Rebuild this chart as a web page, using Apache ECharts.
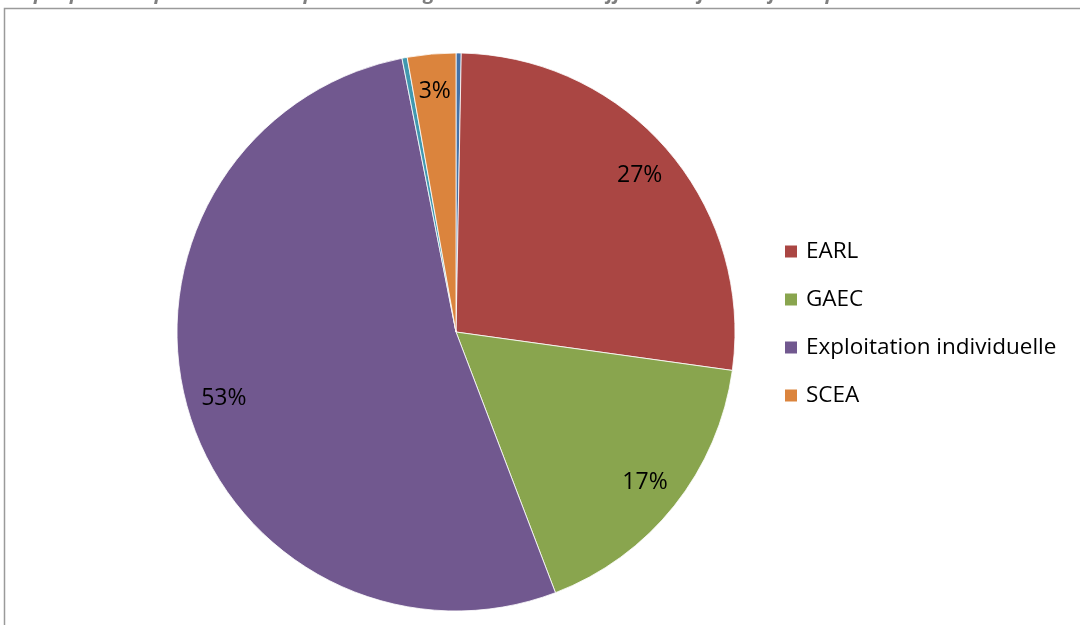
<!DOCTYPE html>
<html>
<head>
<meta charset="utf-8">
<script src="https://cdn.jsdelivr.net/npm/echarts@6/dist/echarts.min.js"></script>
<style>
  html, body { margin: 0; padding: 0; background: #ffffff; }
  #chart { width: 1080px; height: 625px; }
</style>
</head>
<body>
<div id="chart"></div>
<script>
// Legal forms of the farms (share of farms, %)
const categories = ['SARL', 'EARL', 'GAEC', 'Exploitation individuelle', 'Autre', 'SCEA'];
const shares = [0.3, 26.9, 17.0, 52.7, 0.3, 2.8];
const colors = ['#4572A7', '#AA4643', '#89A54E', '#71588F', '#4198AF', '#DB843D'];
// Only these entries appear in the legend and carry a label
const legendItems = ['EARL', 'GAEC', 'Exploitation individuelle', 'SCEA'];
const titleText = 'Graphique 7 : Répartition des exploitations agricoles selon les différentes formes juridiques';

const FONT = '"Open Sans", Lato, sans-serif';
const R = 279;

const pieData = categories.map((name, i) => ({
  name: name,
  value: shares[i],
  itemStyle: { color: colors[i] }
}));

const labelData = categories.map((name, i) => ({
  name: name,
  value: shares[i],
  label: { show: legendItems.indexOf(name) >= 0 }
}));

const chart = echarts.init(document.getElementById('chart'), null, { renderer: 'canvas' });

chart.setOption({
  animation: false,
  backgroundColor: '#ffffff',
  title: {
    text: titleText,
    left: 0,
    top: -19,
    padding: 0,
    textStyle: {
      fontFamily: FONT,
      fontSize: 20,
      lineHeight: 24,
      fontStyle: 'italic',
      fontWeight: 'bold',
      color: '#7f7f7f'
    }
  },
  graphic: [{
    type: 'rect',
    shape: { x: 4.5, y: 8.5, width: 1100, height: 700 },
    style: { fill: 'none', stroke: '#9a9a9a', lineWidth: 1.5 },
    silent: true,
    z: -1
  }],
  legend: {
    orient: 'vertical',
    left: 778,
    top: 235,
    data: legendItems,
    icon: 'rect',
    itemWidth: 14,
    itemHeight: 14,
    itemGap: 25,
    textStyle: { fontFamily: FONT, fontSize: 22.5, color: '#000000', lineHeight: 23, padding: [0, 0, 0, 3] },
    selectedMode: false
  },
  series: [
    {
      type: 'pie',
      center: [456, 332],
      radius: [0, R],
      startAngle: 90,
      clockwise: true,
      avoidLabelOverlap: false,
      label: { show: false },
      labelLine: { show: false },
      itemStyle: { borderColor: '#ffffff', borderWidth: 0.8 },
      emphasis: { disabled: true },
      data: pieData
    },
    {
      // transparent ring that only positions the percentage labels
      type: 'pie',
      center: [456, 332],
      radius: [R * 0.71, R],
      startAngle: 90,
      clockwise: true,
      silent: true,
      avoidLabelOverlap: false,
      itemStyle: { color: 'rgba(0,0,0,0)' },
      label: {
        position: 'inside',
        fontFamily: FONT,
        fontSize: 23,
        color: '#000000',
        formatter: p => Math.round(p.percent) + '%'
      },
      labelLine: { show: false },
      emphasis: { disabled: true },
      data: labelData
    }
  ]
});
</script>
</body>
</html>
